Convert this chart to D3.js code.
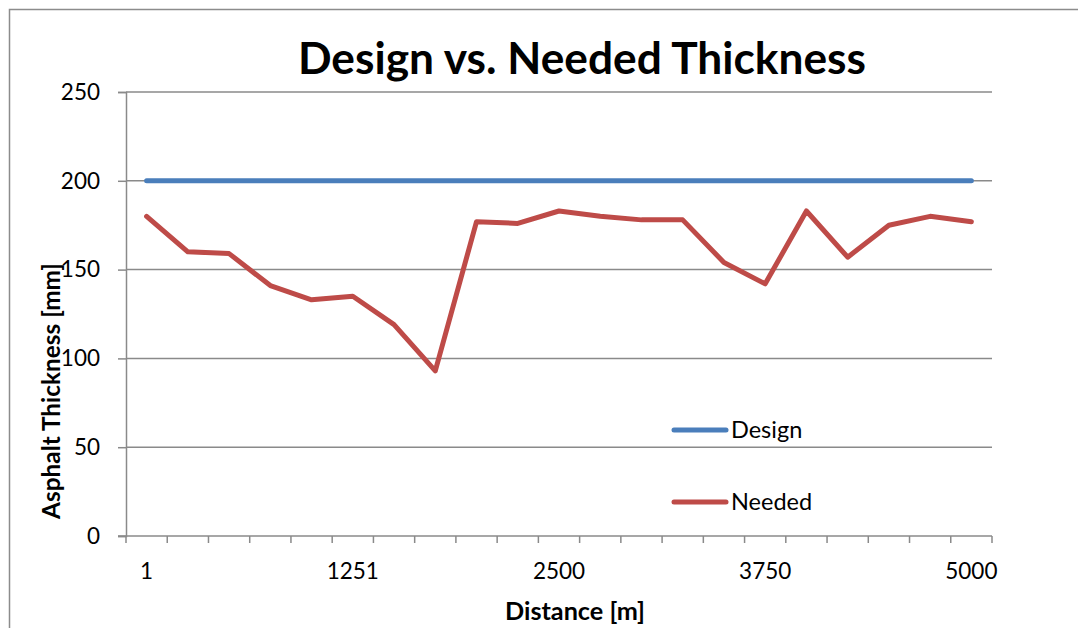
<!DOCTYPE html>
<html>
<head>
<meta charset="utf-8">
<script src="https://cdn.jsdelivr.net/npm/d3@7"></script>
<style>
  html, body { margin: 0; padding: 0; background: #fff; }
  svg { display: block; }
  text { font-family: Lato, "Open Sans", sans-serif; fill: #000; }
</style>
</head>
<body>
<svg id="chart" width="1078" height="628"></svg>
<script>
// Distance stations along the road (m)
const distances = [1, 251, 501, 751, 1001, 1251, 1501, 1751, 2001, 2251, 2500,
                   2750, 3000, 3250, 3500, 3750, 4000, 4250, 4500, 4750, 5000];
// Asphalt thickness (mm)
const designThickness = [200, 200, 200, 200, 200, 200, 200, 200, 200, 200, 200,
                         200, 200, 200, 200, 200, 200, 200, 200, 200, 200];
const neededThickness = [180, 160, 159, 141, 133, 135, 119, 93, 177, 176, 183,
                         180, 178, 178, 154, 142, 183, 157, 175, 180, 177];
const yTicks = [0, 50, 100, 150, 200, 250];
const labelledDistances = [1, 1251, 2500, 3750, 5000];

const seriesNames = ["Design", "Needed"];
const seriesColors = ["#4a7ebb", "#be4b48"];

const svg = d3.select("#chart");
const plot = { left: 126, right: 992, top: 92, bottom: 536 };

const x = d3.scaleBand().domain(distances).range([plot.left, plot.right]).padding(0);
const y = d3.scaleLinear().domain([0, 250]).range([plot.bottom, plot.top]);
const cx = d => x(d) + x.bandwidth() / 2;

// Outer chart border
svg.append("rect")
  .attr("x", 9.5).attr("y", 9.5).attr("width", 1100).attr("height", 700)
  .attr("fill", "none").attr("stroke", "#8c8c8c").attr("stroke-width", 1.5);

// Fit a text element to a given width by adjusting its font size
function fitWidth(sel, target) {
  const node = sel.node();
  const fs = parseFloat(sel.attr("font-size"));
  const w = node.getComputedTextLength();
  sel.attr("font-size", (fs * target / w).toFixed(2));
}

// Horizontal gridlines
svg.append("g").selectAll("line").data(yTicks.filter(t => t > 0)).join("line")
  .attr("x1", plot.left).attr("x2", plot.right)
  .attr("y1", d => y(d)).attr("y2", d => y(d))
  .attr("stroke", "#8a8a8a").attr("stroke-width", 1.5);

// Y axis
const yAxis = svg.append("g")
  .attr("transform", `translate(${plot.left},0)`)
  .call(d3.axisLeft(y).tickValues(yTicks).tickSize(8).tickPadding(18));
yAxis.select(".domain").attr("stroke", "#8a8a8a").attr("stroke-width", 1.5);
yAxis.selectAll(".tick line").attr("stroke", "#8a8a8a").attr("stroke-width", 1.5);
yAxis.selectAll(".tick text")
  .attr("font-family", "Lato, sans-serif").attr("font-size", 22.5).attr("fill", "#000");

// X axis: ticks sit between categories, labels on selected stations
const xAxisG = svg.append("g").attr("transform", `translate(0,${plot.bottom})`);
xAxisG.append("line")
  .attr("x1", plot.left - 8).attr("x2", plot.right)
  .attr("stroke", "#8a8a8a").attr("stroke-width", 1.5);
const boundaries = distances.map(d => x(d)).concat([plot.right]);
xAxisG.selectAll("line.tk").data(boundaries).join("line")
  .attr("class", "tk")
  .attr("x1", d => d).attr("x2", d => d)
  .attr("y1", 0).attr("y2", 7)
  .attr("stroke", "#8a8a8a").attr("stroke-width", 1.5);
xAxisG.selectAll("text").data(labelledDistances).join("text")
  .attr("x", d => cx(d)).attr("y", 43)
  .attr("text-anchor", "middle").attr("font-size", 22.5)
  .text(d => d);

// Series lines
const line = d3.line().x((d, i) => cx(distances[i])).y(d => y(d));
[designThickness, neededThickness].forEach((vals, i) => {
  svg.append("path")
    .datum(vals)
    .attr("d", line)
    .attr("fill", "none")
    .attr("stroke", seriesColors[i])
    .attr("stroke-width", 5)
    .attr("stroke-linejoin", "round")
    .attr("stroke-linecap", "round");
});

// Title
const title = svg.append("text")
  .attr("x", 582).attr("y", 74)
  .attr("text-anchor", "middle").attr("font-weight", 700).attr("font-size", 40)
  .text("Design vs. Needed Thickness");
fitWidth(title, 568);

// Axis titles
const xTitle = svg.append("text")
  .attr("x", 575).attr("y", 620)
  .attr("text-anchor", "middle").attr("font-weight", 700).attr("font-size", 20)
  .text("Distance [m]");
fitWidth(xTitle, 140);

const yTitle = svg.append("text")
  .attr("transform", "translate(60,391) rotate(-90)")
  .attr("text-anchor", "middle").attr("font-weight", 700).attr("font-size", 20)
  .text("Asphalt Thickness [mm]");
fitWidth(yTitle, 256);

// Legend
const legend = svg.append("g");
const legendY = [430, 502];
seriesNames.forEach((name, i) => {
  legend.append("line")
    .attr("x1", 674).attr("x2", 726)
    .attr("y1", legendY[i]).attr("y2", legendY[i])
    .attr("stroke", seriesColors[i]).attr("stroke-width", 5)
    .attr("stroke-linecap", "round");
  legend.append("text")
    .attr("x", 731).attr("y", legendY[i] + 8)
    .attr("font-size", 23.5)
    .text(name);
});
</script>
</body>
</html>
